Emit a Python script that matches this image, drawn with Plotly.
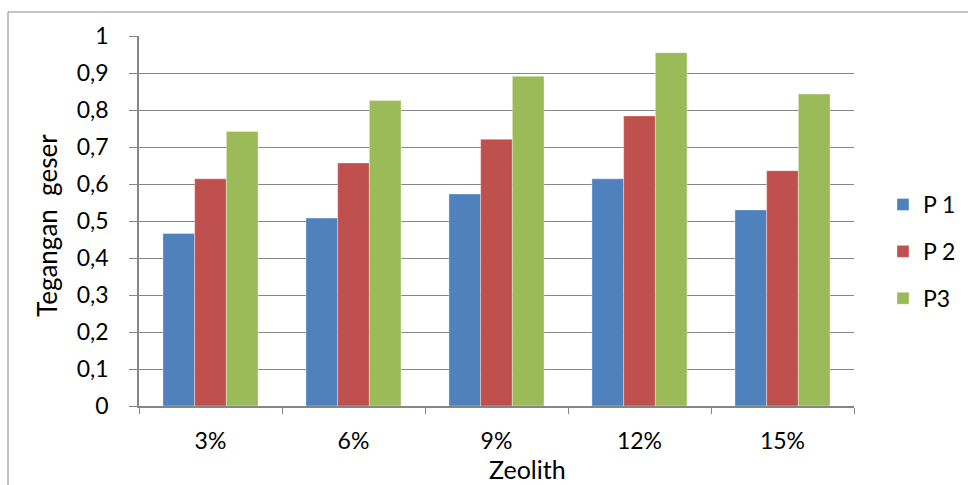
import plotly.graph_objects as go

# Shear stress per zeolith content for three samples
categories = ["3%", "6%", "9%", "12%", "15%"]
p1 = [0.466, 0.508, 0.573, 0.614, 0.530]
p2 = [0.614, 0.657, 0.721, 0.784, 0.636]
p3 = [0.742, 0.826, 0.891, 0.955, 0.843]
series_names = ["P 1", "P 2", "P3"]
colors = ["#4F81BD", "#C0504D", "#9BBB59"]
y_ticks = [0, 0.1, 0.2, 0.3, 0.4, 0.5, 0.6, 0.7, 0.8, 0.9, 1]
y_tick_labels = ["0", "0,1", "0,2", "0,3", "0,4", "0,5", "0,6", "0,7", "0,8", "0,9", "1"]

FONT = "Lato"
GRID = "#868686"
TICK_SIZE = 23
TITLE_SIZE = 25

fig = go.Figure()
for i, (name, vals, col) in enumerate(zip(series_names, [p1, p2, p3], colors)):
    fig.add_trace(go.Bar(
        x=categories, y=vals, name=name, legendgroup=f"g{i}",
        marker=dict(color=col, line=dict(width=0.6, color="rgba(255,255,255,0.6)")),
    ))

W, H = 968, 485
L, R, T, B = 139, 114, 36, 79
pw, ph = W - L - R, H - T - B

def px_x(x):
    return (x - L) / pw

def px_y(y):
    return (H - B - y) / ph

fig.update_layout(
    width=W, height=H,
    margin=dict(l=L, r=R, t=T, b=B, autoexpand=False),
    paper_bgcolor="white", plot_bgcolor="white",
    barmode="group", bargap=0.335, bargroupgap=0,
    font=dict(family=FONT, size=TICK_SIZE, color="#000000"),
    legend=dict(
        x=px_x(883), y=px_y(183), xanchor="left", yanchor="top",
        font=dict(family=FONT, size=TICK_SIZE, color="#000000"),
        tracegroupgap=14, traceorder="grouped",
        bgcolor="rgba(0,0,0,0)", itemwidth=30,
    ),
    xaxis=dict(
        type="category", tickson="boundaries", ticks="outside", ticklen=6,
        tickcolor=GRID, showline=True, linecolor=GRID, linewidth=1.5,
        showgrid=False, ticklabelstandoff=14,
        tickfont=dict(family=FONT, size=TICK_SIZE),
    ),
    yaxis=dict(
        range=[0, 1], tickvals=y_ticks, ticktext=y_tick_labels,
        ticks="outside", ticklen=8, tickcolor=GRID,
        showline=True, linecolor=GRID, linewidth=1.5,
        showgrid=True, gridcolor=GRID, gridwidth=1.2,
        ticklabelstandoff=16, zeroline=False,
        tickfont=dict(family=FONT, size=TICK_SIZE),
    ),
    annotations=[
        dict(text="Zeolith", xref="paper", yref="paper",
             x=px_x(527), y=px_y(485), xanchor="center", yanchor="bottom",
             showarrow=False, borderpad=0, font=dict(family=FONT, size=TITLE_SIZE)),
        dict(text="Tegangan\u00a0 geser", xref="paper", yref="paper",
             x=px_x(47), y=px_y(226), xanchor="center", yanchor="middle",
             textangle=-90, showarrow=False, font=dict(family=FONT, size=TITLE_SIZE + 1)),
    ],
    shapes=[
        dict(type="line", xref="paper", yref="paper",
             x0=px_x(8), x1=px_x(8), y0=px_y(12), y1=px_y(490),
             line=dict(color="#8c8c8c", width=1)),
        dict(type="line", xref="paper", yref="paper",
             x0=px_x(8), x1=px_x(975), y0=px_y(12), y1=px_y(12),
             line=dict(color="#8c8c8c", width=1)),
    ],
)

fig.write_html("out.html")
